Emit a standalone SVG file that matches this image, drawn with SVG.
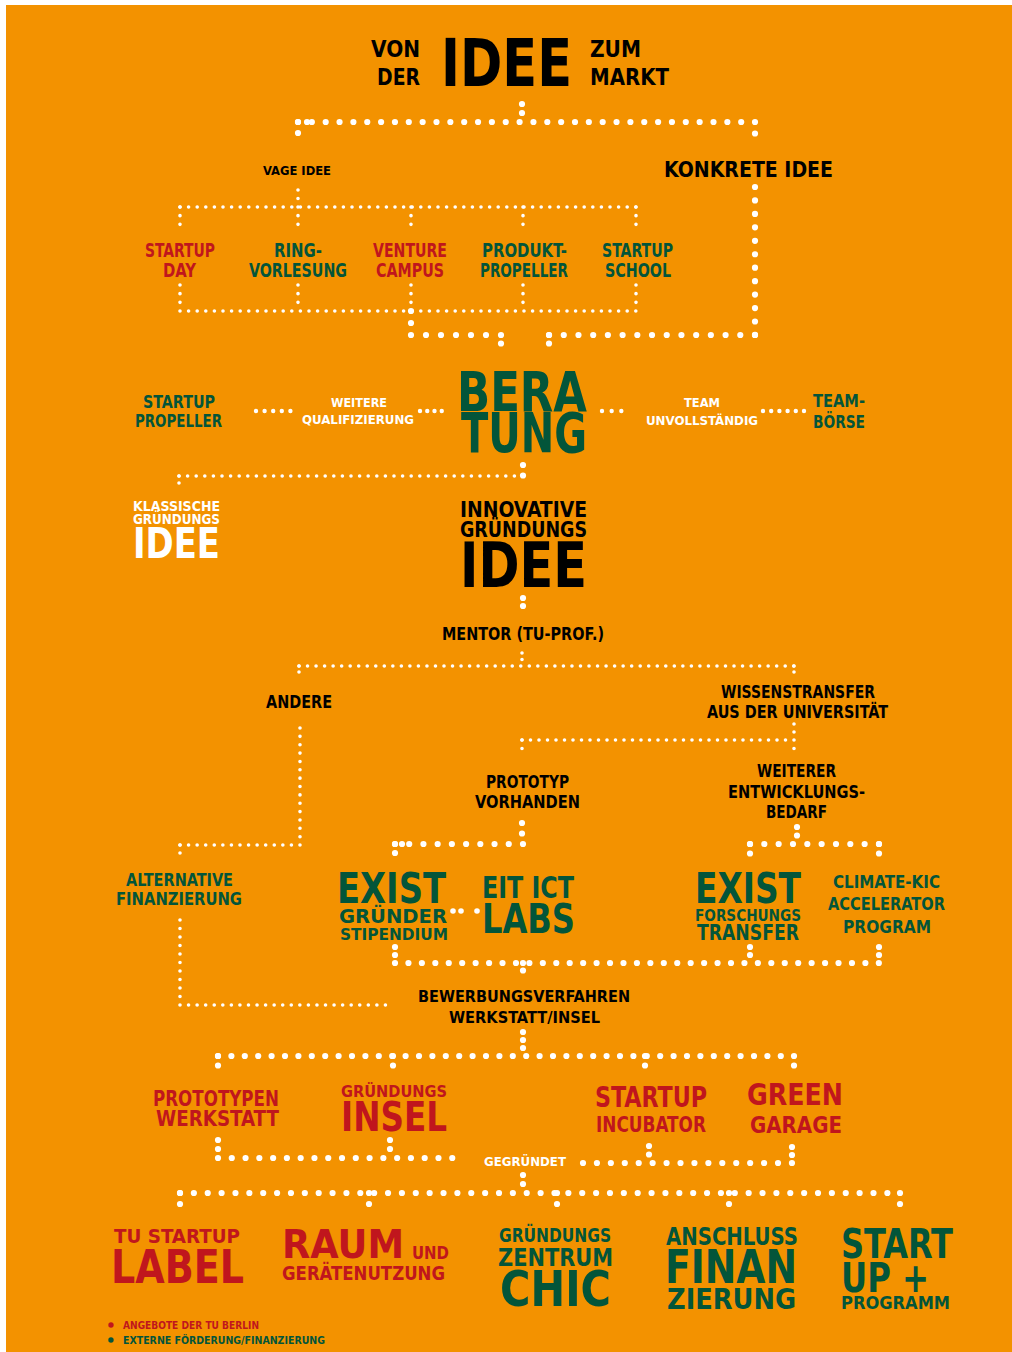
<svg xmlns="http://www.w3.org/2000/svg" width="1012" height="1352" viewBox="0 0 1012 1352">
<style>
text{font-family:"Liberation Sans Narrow","DejaVu Sans Condensed","Liberation Sans",sans-serif;font-weight:bold}
.k{fill:#000}.w{fill:#fff}.g{fill:#03553A}.r{fill:#C0161D}
.b{fill:none;stroke:#fff;stroke-linecap:round;stroke-width:6.2}
.s{fill:none;stroke:#fff;stroke-linecap:round;stroke-width:3.6}
.m{fill:none;stroke:#fff;stroke-linecap:round;stroke-width:4.4}
.dot{fill:#fff}
</style>
<rect width="1012" height="1352" fill="#fff"/>
<rect x="6" y="5" width="1006" height="1347" fill="#F39200"/>

<g id="connectors">
  <!-- big dots -->
  <path class="b" d="M522 104V122" stroke-dasharray="0 9"/>
  <path class="b" d="M298 122H755" stroke-dasharray="0 13.85"/>
  <circle class="dot" cx="307" cy="122" r="3.1"/>
  <path class="b" d="M298 122V144" stroke-dasharray="0 11"/>
  <path class="b" d="M755 122V145" stroke-dasharray="0 11.5"/>
  <path class="b" d="M755 187V335" stroke-dasharray="0 13.45"/>
  <path class="b" d="M755 335H549" stroke-dasharray="0 14.71"/>
  <path class="b" d="M549 335V352" stroke-dasharray="0 8.5"/>
  <path class="b" d="M411 311V335" stroke-dasharray="0 12"/>
  <path class="b" d="M411 335H501" stroke-dasharray="0 15"/>
  <path class="b" d="M501 335V352" stroke-dasharray="0 8.5"/>
  <path class="b" d="M523 465V486" stroke-dasharray="0 10.5"/>
  <path class="b" d="M523 598V614" stroke-dasharray="0 8"/>
  <path class="b" d="M522 823V844" stroke-dasharray="0 10.5"/>
  <path class="b" d="M395 844H523" stroke-dasharray="0 14.22"/>
  <circle class="dot" cx="402" cy="844" r="3.1"/>
  <path class="b" d="M395 844V862" stroke-dasharray="0 9"/>
  <circle class="dot" cx="453" cy="911" r="2.8"/>
  <circle class="dot" cx="461" cy="911" r="2.8"/>
  <circle class="dot" cx="477" cy="911" r="2.8"/>
  <path class="b" d="M797 827V844" stroke-dasharray="0 8.5"/>
  <path class="b" d="M750 844H879" stroke-dasharray="0 14.33"/>
  <path class="b" d="M750 844V863" stroke-dasharray="0 9.5"/>
  <path class="b" d="M879 844V863" stroke-dasharray="0 9.5"/>
  <path class="b" d="M395 947V963" stroke-dasharray="0 8"/>
  <path class="b" d="M750 947V963" stroke-dasharray="0 8"/>
  <path class="b" d="M879 947V963" stroke-dasharray="0 8"/>
  <path class="b" d="M395 963H879" stroke-dasharray="0 13.44"/>
  <path class="b" d="M523 963V978" stroke-dasharray="0 7.5"/>
  <path class="b" d="M523 1032V1056" stroke-dasharray="0 8"/>
  <path class="b" d="M218 1056H794" stroke-dasharray="0 13.4"/>
  <path class="b" d="M218 1056V1075" stroke-dasharray="0 9.5"/>
  <path class="b" d="M393 1056V1075" stroke-dasharray="0 9.5"/>
  <path class="b" d="M645 1056V1075" stroke-dasharray="0 9.5"/>
  <path class="b" d="M794 1056V1075" stroke-dasharray="0 9.5"/>
  <path class="b" d="M218 1140V1158" stroke-dasharray="0 9"/>
  <path class="b" d="M390 1140V1158" stroke-dasharray="0 9"/>
  <path class="b" d="M649 1146V1163" stroke-dasharray="0 8.5"/>
  <path class="b" d="M792 1147V1163" stroke-dasharray="0 8"/>
  <path class="b" d="M218 1158H466" stroke-dasharray="0 13.78"/>
  <path class="b" d="M583 1163H792" stroke-dasharray="0 13.93"/>
  <path class="b" d="M523 1175V1193" stroke-dasharray="0 9"/>
  <path class="b" d="M180 1193H901" stroke-dasharray="0 13.87"/>
  <path class="b" d="M180 1193V1215" stroke-dasharray="0 11"/>
  <path class="b" d="M369 1193V1215" stroke-dasharray="0 11"/>
  <path class="b" d="M557 1193V1215" stroke-dasharray="0 11"/>
  <path class="b" d="M729 1193V1215" stroke-dasharray="0 11"/>
  <path class="b" d="M900 1193V1215" stroke-dasharray="0 11"/>
  <!-- small dots -->
  <path class="s" d="M298 190V207" stroke-dasharray="0 8.5"/>
  <path class="s" d="M180 207H636" stroke-dasharray="0 8.6"/>
  <path class="s" d="M180 207V233M298 207V233M411 207V233M523 207V233M636 207V233" stroke-dasharray="0 8.67"/>
  <path class="s" d="M180 285V311M298 285V311M411 285V311M523 285V311M636 285V311" stroke-dasharray="0 8.67"/>
  <path class="s" d="M180 311H636" stroke-dasharray="0 8.6"/>
  <path class="m" d="M256 411H299" stroke-dasharray="0 8.6"/>
  <path class="m" d="M420 411H449" stroke-dasharray="0 7.25"/>
  <path class="m" d="M602 411H631" stroke-dasharray="0 9.67"/>
  <path class="m" d="M763 411H804" stroke-dasharray="0 8.2"/>
  <path class="s" d="M179 476H523" stroke-dasharray="0 8.6"/>
  <path class="s" d="M179 476V490" stroke-dasharray="0 7"/>
  <path class="s" d="M522 653V666" stroke-dasharray="0 6.5"/>
  <path class="s" d="M299 666H794" stroke-dasharray="0 8.53"/>
  <path class="s" d="M299 666V678M794 666V678" stroke-dasharray="0 6"/>
  <path class="s" d="M300 728V845" stroke-dasharray="0 8.36"/>
  <path class="s" d="M180 845H300" stroke-dasharray="0 8.57"/>
  <path class="s" d="M180 845V861" stroke-dasharray="0 8"/>
  <path class="s" d="M794 724V740" stroke-dasharray="0 8"/>
  <path class="s" d="M522 740H794" stroke-dasharray="0 8.5"/>
  <path class="s" d="M522 740V757M794 740V757" stroke-dasharray="0 8.5"/>
  <path class="s" d="M180 920V1005" stroke-dasharray="0 8.5"/>
  <path class="s" d="M180 1005H394" stroke-dasharray="0 8.56"/>
</g>

<g id="title" class="k">
  <text x="371" y="57" font-size="23.6" textLength="49" lengthAdjust="spacingAndGlyphs">VON</text>
  <text x="377" y="85" font-size="23.6" textLength="43" lengthAdjust="spacingAndGlyphs">DER</text>
  <text x="441" y="86" font-size="65" textLength="131" lengthAdjust="spacingAndGlyphs">IDEE</text>
  <text x="590" y="57" font-size="23.6" textLength="51" lengthAdjust="spacingAndGlyphs">ZUM</text>
  <text x="590" y="85" font-size="23.6" textLength="79" lengthAdjust="spacingAndGlyphs">MARKT</text>
</g>

<g id="vage-idee" class="k"><text x="263" y="175" font-size="12.5" textLength="68" lengthAdjust="spacingAndGlyphs">VAGE IDEE</text></g>
<g id="konkrete-idee" class="k"><text x="664" y="177" font-size="21" textLength="169" lengthAdjust="spacingAndGlyphs">KONKRETE IDEE</text></g>

<g id="startup-day" class="r">
  <text x="145" y="257" font-size="19" textLength="70" lengthAdjust="spacingAndGlyphs">STARTUP</text>
  <text x="163" y="277" font-size="19" textLength="33" lengthAdjust="spacingAndGlyphs">DAY</text>
</g>
<g id="ringvorlesung" class="g">
  <text x="274" y="257" font-size="19" textLength="48" lengthAdjust="spacingAndGlyphs">RING-</text>
  <text x="249" y="277" font-size="19" textLength="98" lengthAdjust="spacingAndGlyphs">VORLESUNG</text>
</g>
<g id="venture-campus" class="r">
  <text x="373" y="257" font-size="19" textLength="74" lengthAdjust="spacingAndGlyphs">VENTURE</text>
  <text x="376" y="277" font-size="19" textLength="68" lengthAdjust="spacingAndGlyphs">CAMPUS</text>
</g>
<g id="produktpropeller" class="g">
  <text x="482" y="257" font-size="19" textLength="85" lengthAdjust="spacingAndGlyphs">PRODUKT-</text>
  <text x="480" y="277" font-size="19" textLength="88" lengthAdjust="spacingAndGlyphs">PROPELLER</text>
</g>
<g id="startup-school" class="g">
  <text x="602" y="257" font-size="19" textLength="71" lengthAdjust="spacingAndGlyphs">STARTUP</text>
  <text x="605" y="277" font-size="19" textLength="66" lengthAdjust="spacingAndGlyphs">SCHOOL</text>
</g>

<g id="beratung" class="g">
  <text x="457" y="411" font-size="56" textLength="130" lengthAdjust="spacingAndGlyphs">BERA</text>
  <text x="461" y="452" font-size="56" textLength="126" lengthAdjust="spacingAndGlyphs">TUNG</text>
</g>
<g id="startup-propeller" class="g">
  <text x="143" y="408" font-size="17" textLength="72" lengthAdjust="spacingAndGlyphs">STARTUP</text>
  <text x="135" y="427" font-size="17" textLength="87" lengthAdjust="spacingAndGlyphs">PROPELLER</text>
</g>
<g id="weitere-qualifizierung" class="w">
  <text x="331" y="407" font-size="13" textLength="56" lengthAdjust="spacingAndGlyphs">WEITERE</text>
  <text x="302" y="424" font-size="13" textLength="112" lengthAdjust="spacingAndGlyphs">QUALIFIZIERUNG</text>
</g>
<g id="team-unvollstaendig" class="w">
  <text x="684" y="407" font-size="13" textLength="36" lengthAdjust="spacingAndGlyphs">TEAM</text>
  <text x="646" y="425" font-size="13" textLength="112" lengthAdjust="spacingAndGlyphs">UNVOLLSTÄNDIG</text>
</g>
<g id="teamboerse" class="g">
  <text x="813" y="407" font-size="17" textLength="52" lengthAdjust="spacingAndGlyphs">TEAM-</text>
  <text x="813" y="428" font-size="17" textLength="52" lengthAdjust="spacingAndGlyphs">BÖRSE</text>
</g>

<g id="klassische-idee" class="w">
  <text x="133" y="511" font-size="13.5" textLength="87" lengthAdjust="spacingAndGlyphs">KLASSISCHE</text>
  <text x="133" y="524" font-size="13.5" textLength="87" lengthAdjust="spacingAndGlyphs">GRÜNDUNGS</text>
  <text x="133" y="558" font-size="42" textLength="87" lengthAdjust="spacingAndGlyphs">IDEE</text>
</g>
<g id="innovative-idee" class="k">
  <text x="460" y="517" font-size="21.5" textLength="127" lengthAdjust="spacingAndGlyphs">INNOVATIVE</text>
  <text x="460" y="537" font-size="21.5" textLength="127" lengthAdjust="spacingAndGlyphs">GRÜNDUNGS</text>
  <text x="460" y="587" font-size="62.5" textLength="127" lengthAdjust="spacingAndGlyphs">IDEE</text>
</g>

<g id="mentor" class="k"><text x="442" y="640" font-size="17" textLength="162" lengthAdjust="spacingAndGlyphs">MENTOR (TU-PROF.)</text></g>
<g id="andere" class="k"><text x="266" y="708" font-size="17" textLength="66" lengthAdjust="spacingAndGlyphs">ANDERE</text></g>
<g id="wissenstransfer" class="k">
  <text x="721" y="698" font-size="17" textLength="154" lengthAdjust="spacingAndGlyphs">WISSENSTRANSFER</text>
  <text x="707" y="718" font-size="17" textLength="181" lengthAdjust="spacingAndGlyphs">AUS DER UNIVERSITÄT</text>
</g>
<g id="prototyp" class="k">
  <text x="486" y="788" font-size="17" textLength="83" lengthAdjust="spacingAndGlyphs">PROTOTYP</text>
  <text x="475" y="808" font-size="17" textLength="105" lengthAdjust="spacingAndGlyphs">VORHANDEN</text>
</g>
<g id="entwicklungsbedarf" class="k">
  <text x="757" y="777" font-size="17" textLength="79" lengthAdjust="spacingAndGlyphs">WEITERER</text>
  <text x="728" y="798" font-size="17" textLength="137" lengthAdjust="spacingAndGlyphs">ENTWICKLUNGS-</text>
  <text x="766" y="818" font-size="17" textLength="61" lengthAdjust="spacingAndGlyphs">BEDARF</text>
</g>

<g id="alternative-finanzierung" class="g">
  <text x="126" y="886" font-size="17.5" textLength="107" lengthAdjust="spacingAndGlyphs">ALTERNATIVE</text>
  <text x="116" y="905" font-size="17.5" textLength="126" lengthAdjust="spacingAndGlyphs">FINANZIERUNG</text>
</g>
<g id="exist-gruender" class="g">
  <text x="337" y="903" font-size="42" textLength="109" lengthAdjust="spacingAndGlyphs">EXIST</text>
  <text x="339" y="923" font-size="19.5" textLength="108" lengthAdjust="spacingAndGlyphs">GRÜNDER</text>
  <text x="340" y="940" font-size="16.5" font-weight="normal" textLength="108" lengthAdjust="spacingAndGlyphs">STIPENDIUM</text>
</g>
<g id="eit-ict-labs" class="g">
  <text x="482" y="898" font-size="31" textLength="92" lengthAdjust="spacingAndGlyphs">EIT ICT</text>
  <text x="482" y="933" font-size="40" textLength="93" lengthAdjust="spacingAndGlyphs">LABS</text>
</g>
<g id="exist-forschungstransfer" class="g">
  <text x="695" y="903" font-size="42" textLength="106" lengthAdjust="spacingAndGlyphs">EXIST</text>
  <text x="695" y="921" font-size="15.5" font-weight="normal" textLength="106" lengthAdjust="spacingAndGlyphs">FORSCHUNGS</text>
  <text x="697" y="940" font-size="21" textLength="102" lengthAdjust="spacingAndGlyphs">TRANSFER</text>
</g>
<g id="climate-kic" class="g">
  <text x="833" y="888" font-size="18" textLength="107" lengthAdjust="spacingAndGlyphs">CLIMATE-KIC</text>
  <text x="828" y="910" font-size="18" textLength="117" lengthAdjust="spacingAndGlyphs">ACCELERATOR</text>
  <text x="843" y="933" font-size="18" textLength="88" lengthAdjust="spacingAndGlyphs">PROGRAM</text>
</g>

<g id="bewerbungsverfahren" class="k">
  <text x="418" y="1002" font-size="16.5" textLength="212" lengthAdjust="spacingAndGlyphs">BEWERBUNGSVERFAHREN</text>
  <text x="449" y="1023" font-size="16.5" textLength="151" lengthAdjust="spacingAndGlyphs">WERKSTATT/INSEL</text>
</g>

<g id="prototypen-werkstatt" class="r">
  <text x="153" y="1106" font-size="21" textLength="126" lengthAdjust="spacingAndGlyphs">PROTOTYPEN</text>
  <text x="156" y="1126" font-size="21" textLength="123" lengthAdjust="spacingAndGlyphs">WERKSTATT</text>
</g>
<g id="gruendungsinsel" class="r">
  <text x="341" y="1097" font-size="16.5" textLength="106" lengthAdjust="spacingAndGlyphs">GRÜNDUNGS</text>
  <text x="341" y="1131" font-size="41" textLength="106" lengthAdjust="spacingAndGlyphs">INSEL</text>
</g>
<g id="startup-incubator" class="r">
  <text x="595" y="1107" font-size="28" textLength="112" lengthAdjust="spacingAndGlyphs">STARTUP</text>
  <text x="596" y="1132" font-size="21" textLength="110" lengthAdjust="spacingAndGlyphs">INCUBATOR</text>
</g>
<g id="green-garage" class="r">
  <text x="747" y="1105" font-size="31" textLength="96" lengthAdjust="spacingAndGlyphs">GREEN</text>
  <text x="750" y="1133" font-size="23" textLength="92" lengthAdjust="spacingAndGlyphs">GARAGE</text>
</g>

<g id="gegruendet" class="w"><text x="484" y="1166" font-size="13" textLength="82" lengthAdjust="spacingAndGlyphs">GEGRÜNDET</text></g>

<g id="tu-startup-label" class="r">
  <text x="114" y="1243" font-size="20" textLength="126" lengthAdjust="spacingAndGlyphs">TU STARTUP</text>
  <text x="111" y="1283" font-size="47" textLength="133" lengthAdjust="spacingAndGlyphs">LABEL</text>
</g>
<g id="raum-geraetenutzung" class="r">
  <text x="282" y="1258" font-size="39" textLength="122" lengthAdjust="spacingAndGlyphs">RAUM</text>
  <text x="412" y="1259" font-size="18" textLength="37" lengthAdjust="spacingAndGlyphs">UND</text>
  <text x="282" y="1280" font-size="19" textLength="163" lengthAdjust="spacingAndGlyphs">GERÄTENUTZUNG</text>
</g>
<g id="chic" class="g">
  <text x="499" y="1242" font-size="19" textLength="112" lengthAdjust="spacingAndGlyphs">GRÜNDUNGS</text>
  <text x="498" y="1266" font-size="24" textLength="115" lengthAdjust="spacingAndGlyphs">ZENTRUM</text>
  <text x="500" y="1306" font-size="50" textLength="111" lengthAdjust="spacingAndGlyphs">CHIC</text>
</g>
<g id="anschlussfinanzierung" class="g">
  <text x="666" y="1245" font-size="24" textLength="132" lengthAdjust="spacingAndGlyphs">ANSCHLUSS</text>
  <text x="665" y="1283" font-size="46" textLength="132" lengthAdjust="spacingAndGlyphs">FINAN</text>
  <text x="667" y="1309" font-size="29" textLength="129" lengthAdjust="spacingAndGlyphs">ZIERUNG</text>
</g>
<g id="startup-plus" class="g">
  <text x="841" y="1258" font-size="40" textLength="112" lengthAdjust="spacingAndGlyphs">START</text>
  <text x="841" y="1292" font-size="40" textLength="88" lengthAdjust="spacingAndGlyphs">UP +</text>
  <text x="841" y="1309" font-size="17.5" textLength="109" lengthAdjust="spacingAndGlyphs">PROGRAMM</text>
</g>

<g id="legend">
  <circle cx="111" cy="1325" r="2.7" fill="#C0161D"/>
  <text class="r" x="123" y="1329" font-size="10.5" textLength="136" lengthAdjust="spacingAndGlyphs">ANGEBOTE DER TU BERLIN</text>
  <circle cx="111" cy="1340" r="2.7" fill="#03553A"/>
  <text class="g" x="123" y="1344" font-size="10.5" textLength="202" lengthAdjust="spacingAndGlyphs">EXTERNE FÖRDERUNG/FINANZIERUNG</text>
</g>
</svg>
